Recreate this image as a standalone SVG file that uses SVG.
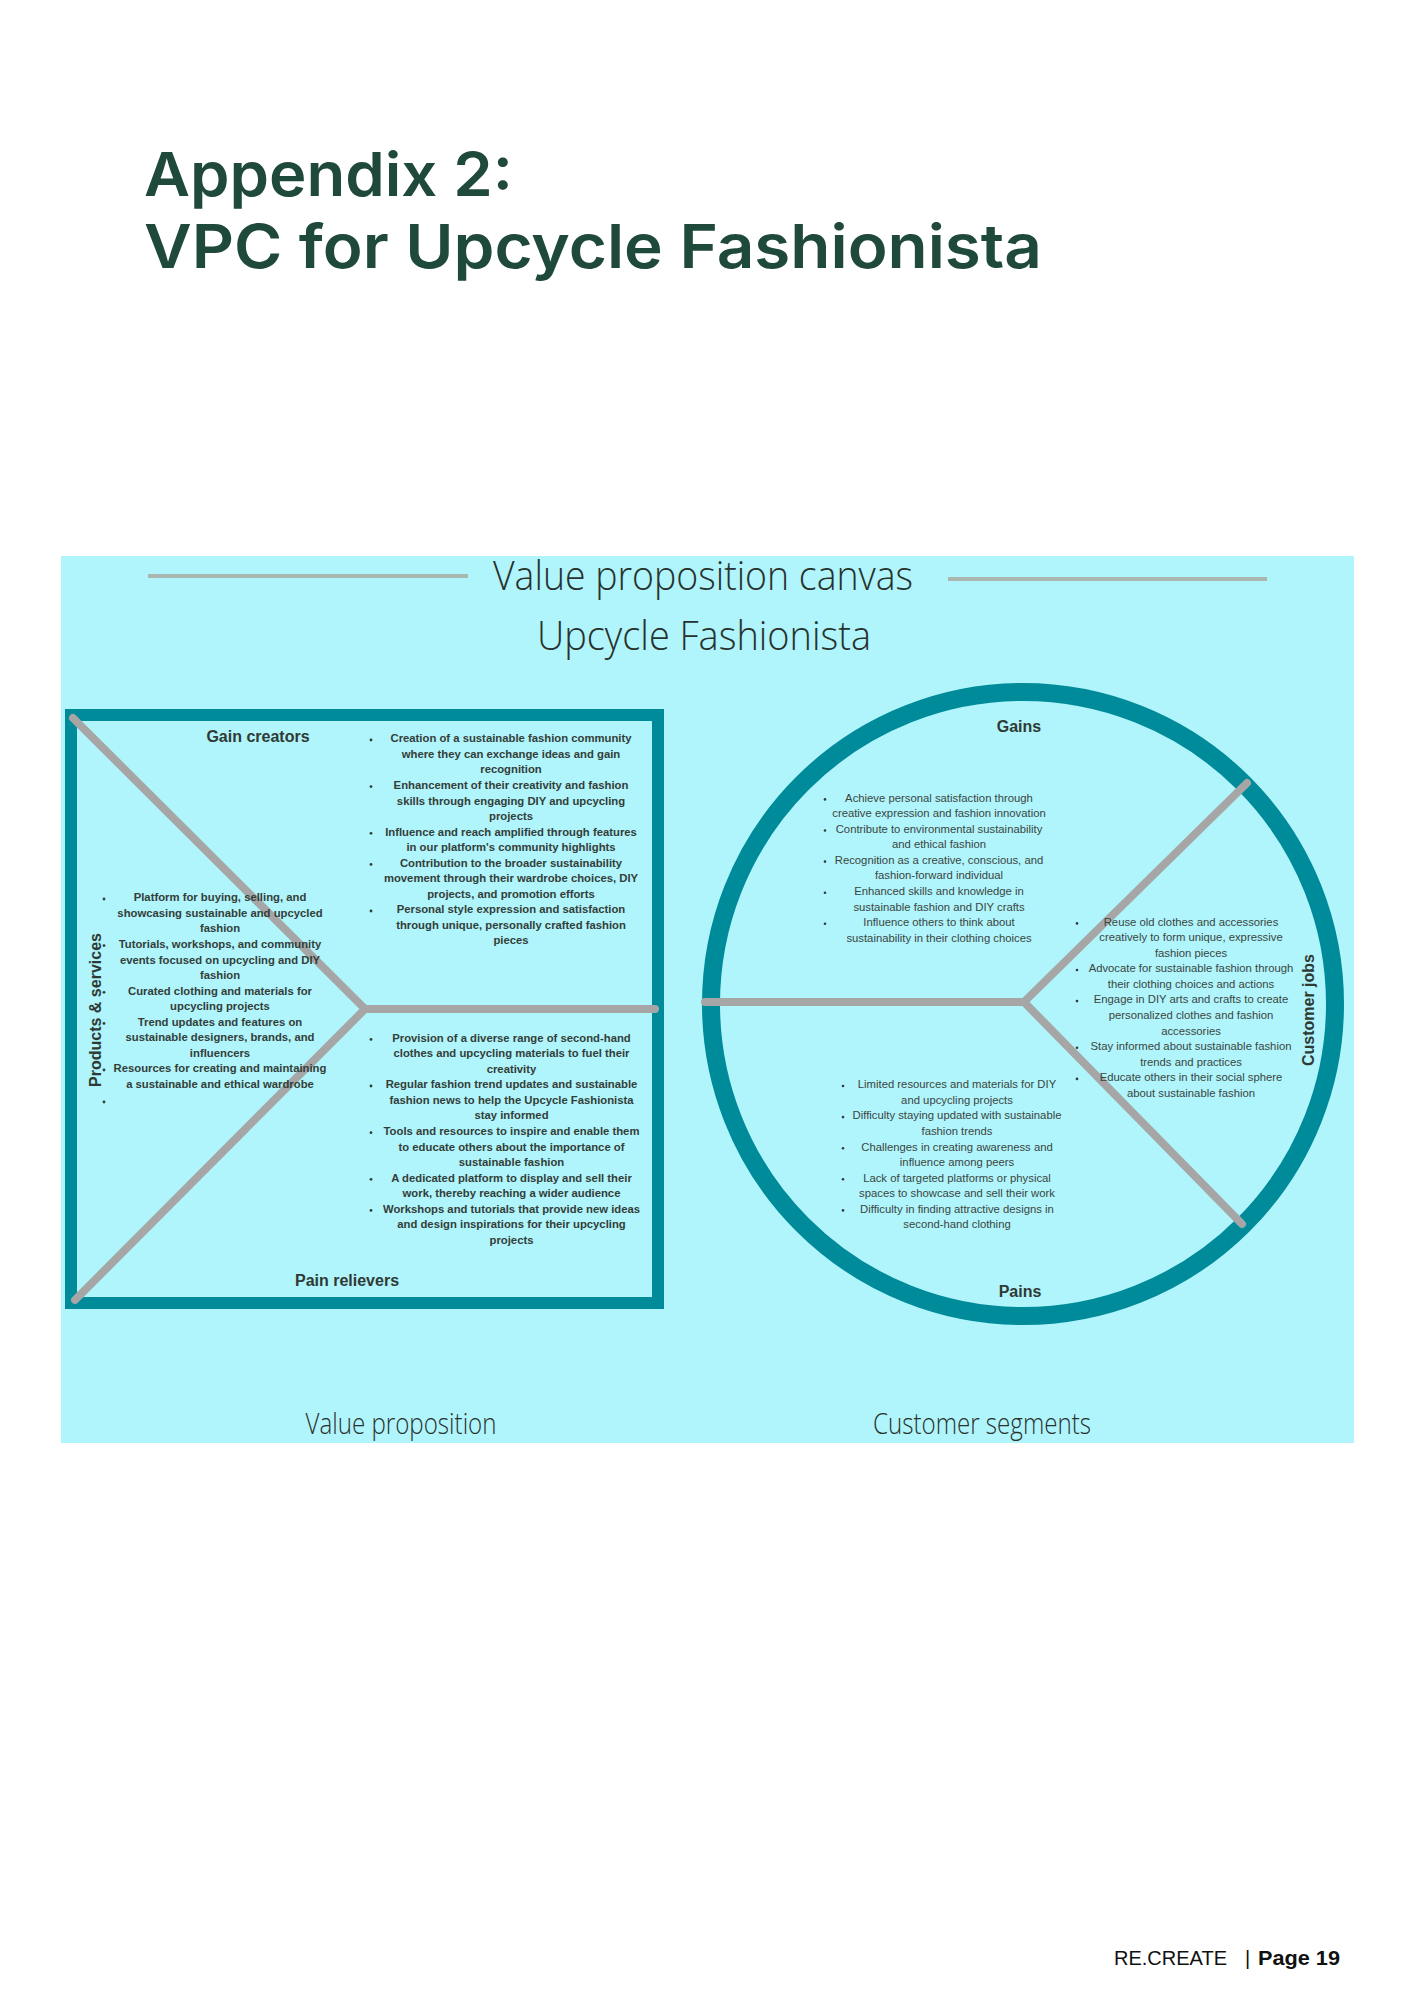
<svg xmlns="http://www.w3.org/2000/svg" width="1414" height="2000" viewBox="0 0 1414 2000">
<style>
.title{font-family:Inter,"Liberation Sans",sans-serif;font-weight:600;fill:#1f4a3b;font-size:61px}
.hdr{font-family:"Open Sans","Liberation Sans",sans-serif;font-weight:300;fill:#28322c;text-anchor:middle}
.lbl{font-family:"Liberation Sans",Arial,sans-serif;font-weight:bold;font-size:16px;fill:#2f3a34;text-anchor:middle}
.lb{font-family:"Liberation Sans",Arial,sans-serif;font-weight:bold;font-size:11.3px;fill:#333e38;text-anchor:middle}
.lr{font-family:"Liberation Sans",Arial,sans-serif;font-size:11.3px;fill:#3a4640;text-anchor:middle}
.bul{fill:#333e38}
.div{stroke:#a6a6a6;stroke-width:8;stroke-linecap:round;stroke-linejoin:round;fill:none}
.foot{font-family:"Liberation Sans",Arial,sans-serif;font-size:20px;fill:#111}
</style>
<rect width="1414" height="2000" fill="#ffffff"/>
<g id="title">
<text class="title" x="144" y="196" textLength="369" lengthAdjust="spacingAndGlyphs">Appendix 2:</text>
<text class="title" x="144" y="268" textLength="898" lengthAdjust="spacingAndGlyphs">VPC for Upcycle Fashionista</text>
</g>
<g id="canvas">
<rect x="61" y="556" width="1293" height="887" fill="#b0f4fc"/>
<line x1="148" y1="576" x2="468" y2="576" stroke="#a9b7af" stroke-width="4"/>
<line x1="948" y1="579" x2="1267" y2="579" stroke="#a9b7af" stroke-width="4"/>
<text class="hdr" x="703" y="590" font-size="40" textLength="420" lengthAdjust="spacingAndGlyphs">Value proposition canvas</text>
<text class="hdr" x="704" y="650" font-size="40" textLength="334" lengthAdjust="spacingAndGlyphs">Upcycle Fashionista</text>
<text class="hdr" x="401" y="1434" font-size="29" textLength="191" lengthAdjust="spacingAndGlyphs">Value proposition</text>
<text class="hdr" x="982" y="1434" font-size="29" textLength="218" lengthAdjust="spacingAndGlyphs">Customer segments</text>
</g>
<g id="value-proposition">
<rect x="71" y="715" width="587" height="588" fill="none" stroke="#008b9b" stroke-width="12"/>
</g>
<g id="customer-segment">
<circle cx="1023" cy="1004" r="312" fill="none" stroke="#008b9b" stroke-width="18"/>
</g>
<g id="connectors">
<polyline class="div" points="73,718 365,1009 75,1300"/>
<line class="div" x1="365" y1="1009" x2="655" y2="1009"/>
<polyline class="div" points="1247,783 1024,1002 1242,1224"/>
<line class="div" x1="705" y1="1002" x2="1024" y2="1002"/>
</g>
<g id="gain-creators">
<text class="lbl" x="258" y="742">Gain creators</text>
<text class="lb"><tspan x="511" y="742.3">Creation of a sustainable fashion community</tspan><tspan x="511" dy="15.55">where they can exchange ideas and gain</tspan><tspan x="511" dy="15.55">recognition</tspan><tspan x="511" dy="15.55">Enhancement of their creativity and fashion</tspan><tspan x="511" dy="15.55">skills through engaging DIY and upcycling</tspan><tspan x="511" dy="15.55">projects</tspan><tspan x="511" dy="15.55">Influence and reach amplified through features</tspan><tspan x="511" dy="15.55">in our platform's community highlights</tspan><tspan x="511" dy="15.55">Contribution to the broader sustainability</tspan><tspan x="511" dy="15.55">movement through their wardrobe choices, DIY</tspan><tspan x="511" dy="15.55">projects, and promotion efforts</tspan><tspan x="511" dy="15.55">Personal style expression and satisfaction</tspan><tspan x="511" dy="15.55">through unique, personally crafted fashion</tspan><tspan x="511" dy="15.55">pieces</tspan></text>
<g class="bul"><circle cx="371" cy="740" r="1.4"/><circle cx="371" cy="786.6" r="1.4"/><circle cx="371" cy="833.3" r="1.4"/><circle cx="371" cy="864.4" r="1.4"/><circle cx="371" cy="911" r="1.4"/></g>
</g>
<g id="products-services">
<text class="lbl" transform="translate(101,1010) rotate(-90)" x="0" y="0">Products &amp; services</text>
<text class="lb"><tspan x="220" y="901.3">Platform for buying, selling, and</tspan><tspan x="220" dy="15.55">showcasing sustainable and upcycled</tspan><tspan x="220" dy="15.55">fashion</tspan><tspan x="220" dy="15.55">Tutorials, workshops, and community</tspan><tspan x="220" dy="15.55">events focused on upcycling and DIY</tspan><tspan x="220" dy="15.55">fashion</tspan><tspan x="220" dy="15.55">Curated clothing and materials for</tspan><tspan x="220" dy="15.55">upcycling projects</tspan><tspan x="220" dy="15.55">Trend updates and features on</tspan><tspan x="220" dy="15.55">sustainable designers, brands, and</tspan><tspan x="220" dy="15.55">influencers</tspan><tspan x="220" dy="15.55">Resources for creating and maintaining</tspan><tspan x="220" dy="15.55">a sustainable and ethical wardrobe</tspan></text>
<g class="bul"><circle cx="104" cy="899" r="1.4"/><circle cx="104" cy="945.6" r="1.4"/><circle cx="104" cy="992.3" r="1.4"/><circle cx="104" cy="1023.4" r="1.4"/><circle cx="104" cy="1070" r="1.4"/><circle cx="104" cy="1102" r="1.4"/></g>
</g>
<g id="pain-relievers">
<text class="lbl" x="347" y="1286">Pain relievers</text>
<text class="lb"><tspan x="511.5" y="1041.7">Provision of a diverse range of second-hand</tspan><tspan x="511.5" dy="15.55">clothes and upcycling materials to fuel their</tspan><tspan x="511.5" dy="15.55">creativity</tspan><tspan x="511.5" dy="15.55">Regular fashion trend updates and sustainable</tspan><tspan x="511.5" dy="15.55">fashion news to help the Upcycle Fashionista</tspan><tspan x="511.5" dy="15.55">stay informed</tspan><tspan x="511.5" dy="15.55">Tools and resources to inspire and enable them</tspan><tspan x="511.5" dy="15.55">to educate others about the importance of</tspan><tspan x="511.5" dy="15.55">sustainable fashion</tspan><tspan x="511.5" dy="15.55">A dedicated platform to display and sell their</tspan><tspan x="511.5" dy="15.55">work, thereby reaching a wider audience</tspan><tspan x="511.5" dy="15.55">Workshops and tutorials that provide new ideas</tspan><tspan x="511.5" dy="15.55">and design inspirations for their upcycling</tspan><tspan x="511.5" dy="15.55">projects</tspan></text>
<g class="bul"><circle cx="371" cy="1039.4" r="1.4"/><circle cx="371" cy="1086" r="1.4"/><circle cx="371" cy="1132.7" r="1.4"/><circle cx="371" cy="1179.3" r="1.4"/><circle cx="371" cy="1210.4" r="1.4"/></g>
</g>
<g id="gains">
<text class="lbl" x="1019" y="732">Gains</text>
<text class="lr"><tspan x="939" y="801.7">Achieve personal satisfaction through</tspan><tspan x="939" dy="15.55">creative expression and fashion innovation</tspan><tspan x="939" dy="15.55">Contribute to environmental sustainability</tspan><tspan x="939" dy="15.55">and ethical fashion</tspan><tspan x="939" dy="15.55">Recognition as a creative, conscious, and</tspan><tspan x="939" dy="15.55">fashion-forward individual</tspan><tspan x="939" dy="15.55">Enhanced skills and knowledge in</tspan><tspan x="939" dy="15.55">sustainable fashion and DIY crafts</tspan><tspan x="939" dy="15.55">Influence others to think about</tspan><tspan x="939" dy="15.55">sustainability in their clothing choices</tspan></text>
<g class="bul"><circle cx="825" cy="799.4" r="1.3"/><circle cx="825" cy="830.5" r="1.3"/><circle cx="825" cy="861.6" r="1.3"/><circle cx="825" cy="892.7" r="1.3"/><circle cx="825" cy="923.8" r="1.3"/></g>
</g>
<g id="customer-jobs">
<text class="lbl" transform="translate(1314,1010) rotate(-90)" x="0" y="0">Customer jobs</text>
<text class="lr"><tspan x="1191" y="925.7">Reuse old clothes and accessories</tspan><tspan x="1191" dy="15.55">creatively to form unique, expressive</tspan><tspan x="1191" dy="15.55">fashion pieces</tspan><tspan x="1191" dy="15.55">Advocate for sustainable fashion through</tspan><tspan x="1191" dy="15.55">their clothing choices and actions</tspan><tspan x="1191" dy="15.55">Engage in DIY arts and crafts to create</tspan><tspan x="1191" dy="15.55">personalized clothes and fashion</tspan><tspan x="1191" dy="15.55">accessories</tspan><tspan x="1191" dy="15.55">Stay informed about sustainable fashion</tspan><tspan x="1191" dy="15.55">trends and practices</tspan><tspan x="1191" dy="15.55">Educate others in their social sphere</tspan><tspan x="1191" dy="15.55">about sustainable fashion</tspan></text>
<g class="bul"><circle cx="1077" cy="923.4" r="1.3"/><circle cx="1077" cy="970" r="1.3"/><circle cx="1077" cy="1001.1" r="1.3"/><circle cx="1077" cy="1047.8" r="1.3"/><circle cx="1077" cy="1078.9" r="1.3"/></g>
</g>
<g id="pains">
<text class="lbl" x="1020" y="1297">Pains</text>
<text class="lr"><tspan x="957" y="1088.3">Limited resources and materials for DIY</tspan><tspan x="957" dy="15.55">and upcycling projects</tspan><tspan x="957" dy="15.55">Difficulty staying updated with sustainable</tspan><tspan x="957" dy="15.55">fashion trends</tspan><tspan x="957" dy="15.55">Challenges in creating awareness and</tspan><tspan x="957" dy="15.55">influence among peers</tspan><tspan x="957" dy="15.55">Lack of targeted platforms or physical</tspan><tspan x="957" dy="15.55">spaces to showcase and sell their work</tspan><tspan x="957" dy="15.55">Difficulty in finding attractive designs in</tspan><tspan x="957" dy="15.55">second-hand clothing</tspan></text>
<g class="bul"><circle cx="843" cy="1086" r="1.3"/><circle cx="843" cy="1117.1" r="1.3"/><circle cx="843" cy="1148.2" r="1.3"/><circle cx="843" cy="1179.3" r="1.3"/><circle cx="843" cy="1210.4" r="1.3"/></g>
</g>
<g id="footer">
<text class="foot" x="1114" y="1965" textLength="113" lengthAdjust="spacingAndGlyphs">RE.CREATE</text>
<text class="foot" x="1245" y="1965">|</text>
<text class="foot" x="1258" y="1965" font-weight="bold" textLength="82" lengthAdjust="spacingAndGlyphs">Page 19</text>
</g>
</svg>
